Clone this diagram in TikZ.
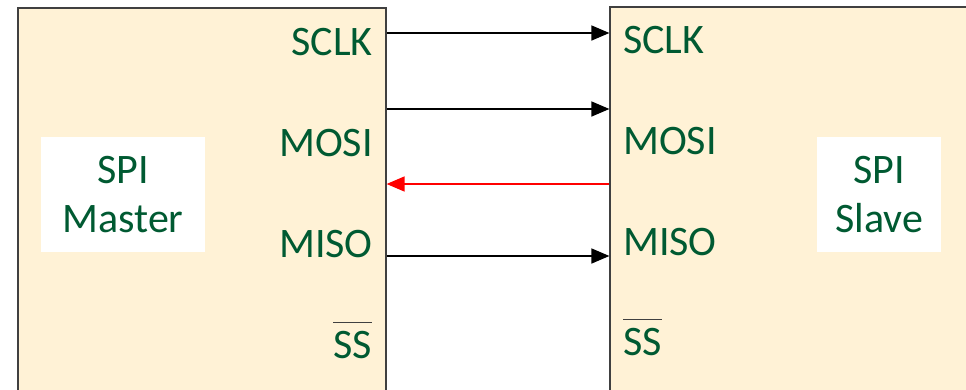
\documentclass[tikz,border=0pt]{standalone}
\usepackage{fontspec}
\setmainfont{Carlito}
\usetikzlibrary{arrows.meta}
\definecolor{cream}{HTML}{FFF2D6}
\definecolor{sigtext}{HTML}{005A32}
\definecolor{boxline}{HTML}{404040}
\begin{document}
\begin{tikzpicture}[x=1pt,y=-1pt,
  chip/.style={draw=boxline,line width=1.2pt,fill=cream,rectangle,inner sep=0pt},
  whitebox/.style={fill=white,draw=none,rectangle,inner sep=0pt,minimum width=164pt,minimum height=115pt},
  lbl/.style={text=sigtext,font=\fontsize{42}{49}\selectfont,inner sep=0pt},
  sig/.style={line width=1.6pt,-{Triangle[length=18pt,width=15pt]}},
  miso/.style={sig,draw=red,-{Triangle[length=18pt,width=15pt,fill=red]}},
  ovl/.style={draw=boxline,line width=1.1pt}]
\path[use as bounding box] (0,0) rectangle (966,389);
\clip (0,0) rectangle (966,389);
% chips
\node[chip,minimum width=368pt,minimum height=412pt] (master) at (202,214) {};
\node[chip,minimum width=400pt,minimum height=413pt] (slave) at (810,213.5) {};
% white inner boxes
\node[whitebox] (mbox) at (123,194.5) {};
\node[whitebox,minimum width=124pt] (sbox) at (879,194.5) {};
\node[lbl,anchor=base] (mspi) at (123,183) {SPI};
\node[lbl,anchor=base] (mmaster) at (123,232) {Master};
\node[lbl,anchor=base] (sspi) at (879,183) {SPI};
\node[lbl,anchor=base] (sslave) at (879,232) {Slave};
% master pins
\node[lbl,anchor=base east] (msclk) at (373,55) {SCLK};
\node[lbl,anchor=base east] (mmosi) at (373,156) {MOSI};
\node[lbl,anchor=base east] (mmiso) at (373,257) {MISO};
\node[lbl,anchor=base east] (mss) at (372,358) {SS};
% slave pins
\node[lbl,anchor=base west] (ssclk) at (623,53) {SCLK};
\node[lbl,anchor=base west] (smosi) at (623,154) {MOSI};
\node[lbl,anchor=base west] (smiso) at (623,255) {MISO};
\node[lbl,anchor=base west] (sss) at (623,355) {SS};
% overlines
\draw[ovl] ([yshift=8pt]mss.north west) -- ([yshift=8pt]mss.north east);
\draw[ovl] ([yshift=8pt]sss.north west) -- ([yshift=8pt]sss.north east);
% signals
\draw[sig] (master.east |- 0,33) -- (slave.west |- 0,33);
\draw[sig] (master.east |- 0,109) -- (slave.west |- 0,109);
\draw[miso] (slave.west |- 0,184) -- (master.east |- 0,184);
\draw[sig] (master.east |- 0,256) -- (slave.west |- 0,256);
\end{tikzpicture}
\end{document}
